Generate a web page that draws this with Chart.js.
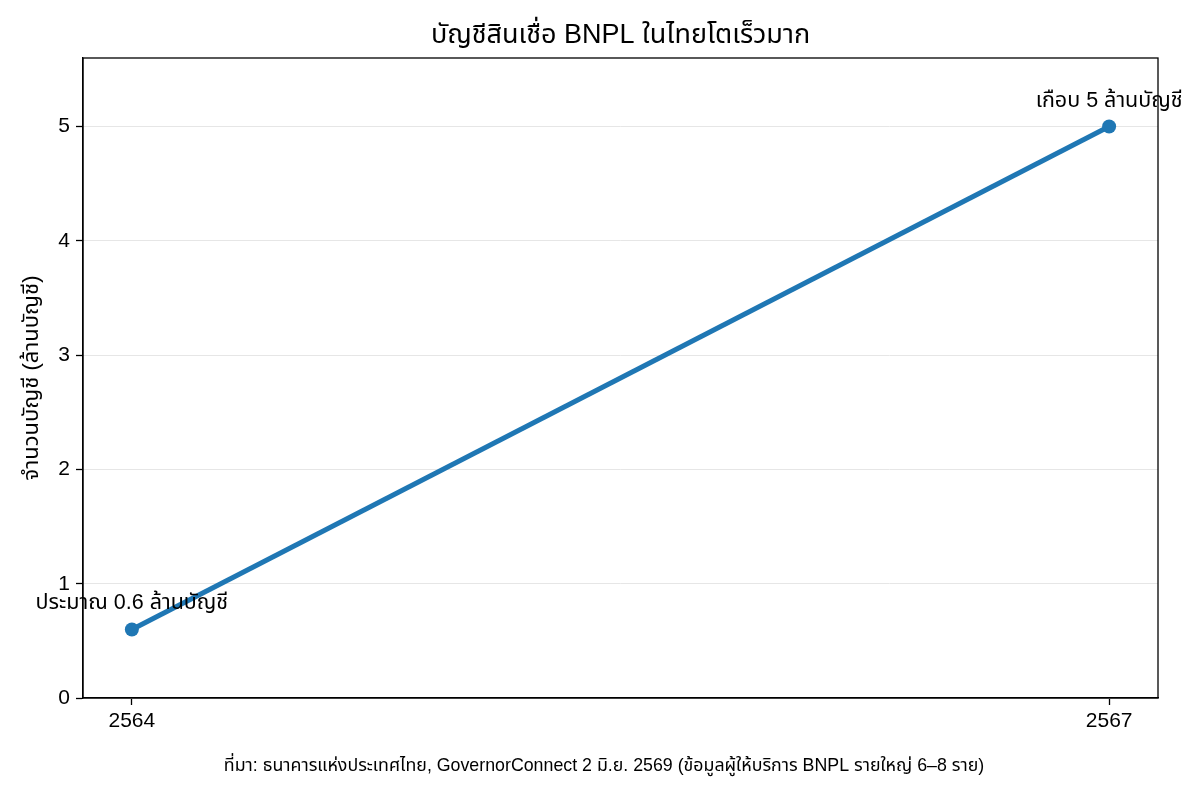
<!DOCTYPE html>
<html>
<head>
<meta charset="utf-8">
<script src="https://cdn.jsdelivr.net/npm/chart.js@4/dist/chart.umd.min.js"></script>
<style>
  html, body { margin: 0; padding: 0; background: #fff; }
  #wrap { width: 1200px; height: 792px; position: relative; }
</style>
</head>
<body>
<div id="wrap"><canvas id="chart"></canvas></div>
<script>
// Data
var YEARS = [2564, 2567];
var ACCOUNTS = [0.6, 5];
var POINT_LABELS = ['ประมาณ 0.6 ล้านบัญชี', 'เกือบ 5 ล้านบัญชี'];
var X_TICKS = [2564, 2567];
var Y_TICKS = [0, 1, 2, 3, 4, 5];

var TITLE = 'บัญชีสินเชื่อ BNPL ในไทยโตเร็วมาก';
var Y_TITLE = 'จำนวนบัญชี (ล้านบัญชี)';
var SOURCE = 'ที่มา: ธนาคารแห่งประเทศไทย, GovernorConnect 2 มิ.ย. 2569 (ข้อมูลผู้ให้บริการ BNPL รายใหญ่ 6–8 ราย)';

var FONT = '"Liberation Sans", Arial, "Noto Sans Thai", "Noto Sans", sans-serif';
var BLUE = '#1f77b4';

// title, frame, point annotations and source note
var extras = {
  id: 'extras',
  afterDraw: function (chart) {
    var ctx = chart.ctx;
    var a = chart.chartArea;
    var xs = chart.scales.x, ys = chart.scales.y;

    ctx.save();
    ctx.strokeStyle = '#000';
    ctx.lineWidth = 1.3;
    ctx.strokeRect(a.left, a.top, a.right - a.left, a.bottom - a.top);

    ctx.fillStyle = '#000';
    ctx.textAlign = 'center';
    ctx.textBaseline = 'middle';
    ctx.font = '27px ' + FONT;
    ctx.fillText(TITLE, (a.left + a.right) / 2, 36);

    ctx.font = '21.5px ' + FONT;
    ctx.textBaseline = 'alphabetic';
    YEARS.forEach(function (yr, i) {
      ctx.fillText(POINT_LABELS[i], xs.getPixelForValue(yr), ys.getPixelForValue(ACCOUNTS[i]) - 20);
    });

    ctx.font = '17.8px ' + FONT;
    ctx.textBaseline = 'middle';
    ctx.fillText(SOURCE, 604, 766);
    ctx.restore();
  }
};

var chart = new Chart(document.getElementById('chart'), {
  type: 'line',
  data: {
    datasets: [{
      data: YEARS.map(function (yr, i) { return { x: yr, y: ACCOUNTS[i] }; }),
      borderColor: BLUE,
      backgroundColor: BLUE,
      borderWidth: 5,
      pointRadius: 7,
      pointHoverRadius: 7,
      pointBorderWidth: 0,
      tension: 0
    }]
  },
  options: {
    responsive: true,
    maintainAspectRatio: false,
    animation: false,
    layout: { padding: { top: 58, right: 42, bottom: 44, left: 0 } },
    plugins: {
      legend: { display: false },
      tooltip: { enabled: false }
    },
    scales: {
      x: {
        type: 'linear',
        min: 2563.85,
        max: 2567.15,
        afterBuildTicks: function (s) {
          s.ticks = X_TICKS.map(function (v) { return { value: v }; });
        },
        afterFit: function (s) { s.height = 50; },
        ticks: {
          color: '#000',
          font: { family: FONT, size: 21 },
          padding: 4,
          maxRotation: 0,
          callback: function (v) { return String(v); }
        },
        grid: { drawOnChartArea: false, drawTicks: true, tickLength: 7, tickColor: '#000', tickWidth: 1.3 },
        border: { color: '#000', width: 1.3 }
      },
      y: {
        min: 0,
        max: 5.6,
        afterBuildTicks: function (s) {
          s.ticks = Y_TICKS.map(function (v) { return { value: v }; });
        },
        afterFit: function (s) { s.width = 83; },
        ticks: {
          color: '#000',
          font: { family: FONT, size: 21 },
          padding: 6
        },
        title: {
          display: true,
          text: Y_TITLE,
          color: '#000',
          font: { family: FONT, size: 22 },
          padding: { top: 19, bottom: 0 }
        },
        grid: { color: '#e6e6e6', lineWidth: 1, drawTicks: true, tickLength: 7, tickColor: '#000', tickWidth: 1.3 },
        border: { color: '#000', width: 1.3 }
      }
    }
  },
  plugins: [extras]
});
</script>
</body>
</html>
